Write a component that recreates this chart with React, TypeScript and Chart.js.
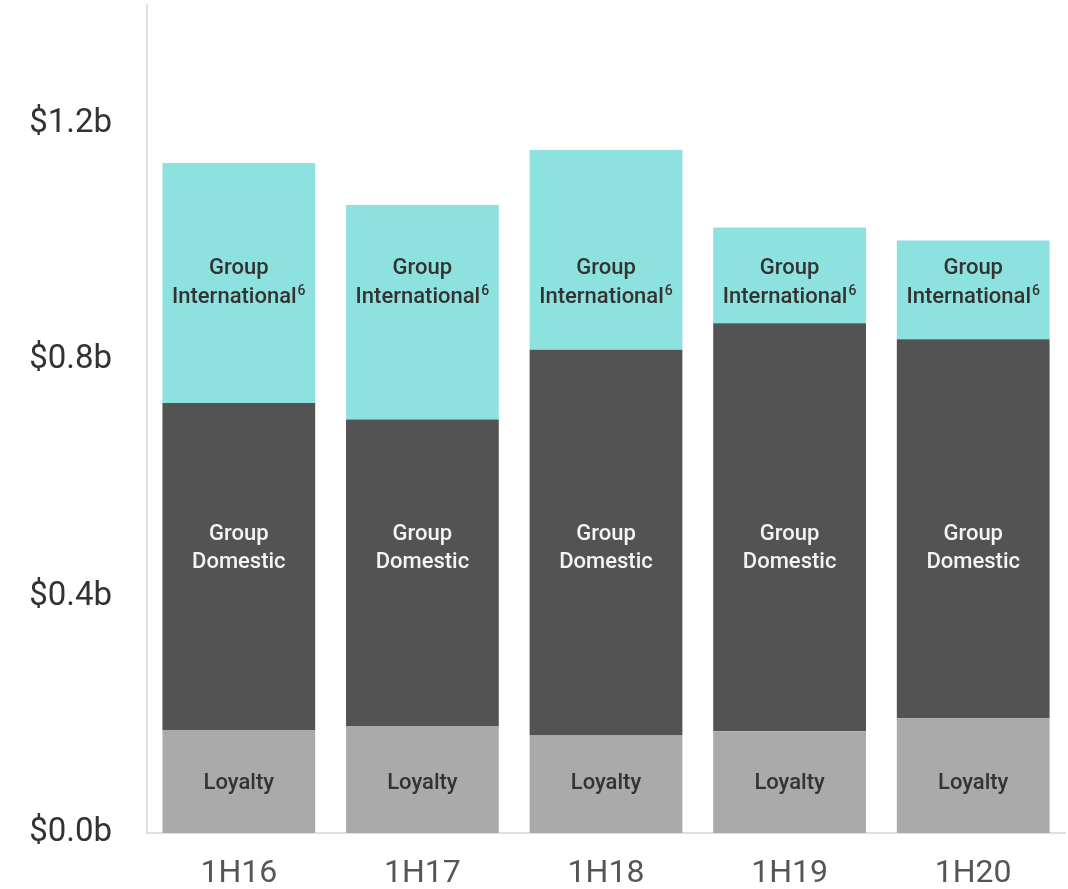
import React, { useEffect, useRef } from "react";
import { Chart, registerables } from "chart.js";

Chart.register(...registerables);

const categories = ["1H16", "1H17", "1H18", "1H19", "1H20"];
const loyalty = [0.174, 0.181, 0.165, 0.172, 0.194];
const domestic = [0.553, 0.518, 0.652, 0.69, 0.641];
const international = [0.406, 0.363, 0.338, 0.162, 0.167];
const yTicks = [0, 0.4, 0.8, 1.2];
const seriesNames = ["Loyalty", "Group Domestic", "Group International"];
const labelLines = [["Loyalty"], ["Group", "Domestic"], ["Group", "International"]];
const labelValues = [0.083, 0.481, 0.93];
const labelColors = ["#333333", "#f4f4f4", "#333333"];

const FONT = "Roboto, 'Open Sans', sans-serif";

const labelPlugin = {
  id: "segLabels",
  afterDatasetsDraw(chart: any) {
    const ctx = chart.ctx;
    const y = chart.scales.y;
    const lineH = 28.5;
    ctx.save();
    ctx.textBaseline = "middle";
    chart.data.datasets.forEach((ds: any, di: number) => {
      const meta = chart.getDatasetMeta(di);
      ctx.fillStyle = labelColors[di];
      meta.data.forEach((bar: any) => {
        const cx = bar.x;
        const cy = y.getPixelForValue(labelValues[di]);
        const lines = labelLines[di];
        const start = cy - ((lines.length - 1) * lineH) / 2;
        lines.forEach((ln, li) => {
          const ly = start + li * lineH;
          ctx.font = `500 22px ${FONT}`;
          if (di === 2 && li === 1) {
            const w = ctx.measureText(ln).width;
            ctx.font = `500 14px ${FONT}`;
            const sw = ctx.measureText("6").width;
            const total = w + sw + 1;
            const left = cx - total / 2;
            ctx.textAlign = "left";
            ctx.font = `500 22px ${FONT}`;
            ctx.fillText(ln, left, ly);
            ctx.font = `500 14px ${FONT}`;
            ctx.fillText("6", left + w + 1, ly - 6);
          } else {
            ctx.textAlign = "center";
            ctx.fillText(ln, cx, ly);
          }
        });
      });
    });
    ctx.restore();
  },
};

export default function App() {
  const ref = useRef<HTMLCanvasElement>(null);
  useEffect(() => {
    const chart = new Chart(ref.current!, {
      type: "bar",
      data: {
        labels: categories,
        datasets: [
          { label: seriesNames[0], data: loyalty, backgroundColor: "#aaaaaa" },
          { label: seriesNames[1], data: domestic, backgroundColor: "#535353" },
          { label: seriesNames[2], data: international, backgroundColor: "#8de2df" },
        ],
      },
      options: {
        animation: false,
        responsive: false,
        maintainAspectRatio: false,
        layout: { autoPadding: false, padding: { top: 5, right: 3, left: 0, bottom: 0 } },
        datasets: { bar: { barPercentage: 0.832, categoryPercentage: 1 } } as any,
        plugins: { legend: { display: false }, tooltip: { enabled: false } },
        scales: {
          x: {
            stacked: true,
            grid: { display: false },
            border: { display: true, color: "#e0e0e0", width: 2 },
            afterFit: (s: any) => { s.height = 56; s.paddingLeft = 0; s.paddingRight = 0; },
            ticks: { color: "#555555", font: { family: FONT, size: 32 }, padding: 14, maxRotation: 0, autoSkip: false },
          },
          y: {
            stacked: true,
            min: 0,
            max: 1.4,
            grid: { display: false },
            border: { display: true, color: "#e0e0e0", width: 2 },
            afterFit: (s: any) => { s.width = 147; s.paddingTop = 0; s.paddingBottom = 0; },
            afterBuildTicks: (s: any) => { s.ticks = yTicks.map((v) => ({ value: v })); },
            ticks: {
              color: "#333333",
              font: { family: FONT, size: 33 },
              padding: 27,
              callback: (v: any) => "$" + Number(v).toFixed(1) + "b",
            },
          },
        },
      },
      plugins: [labelPlugin],
    });
    return () => chart.destroy();
  }, []);
  return (
    <div style={{ position: "fixed", left: 0, top: 0, width: 1068, height: 889, background: "#fff" }}>
      <canvas ref={ref} width={1068} height={889} />
    </div>
  );
}
